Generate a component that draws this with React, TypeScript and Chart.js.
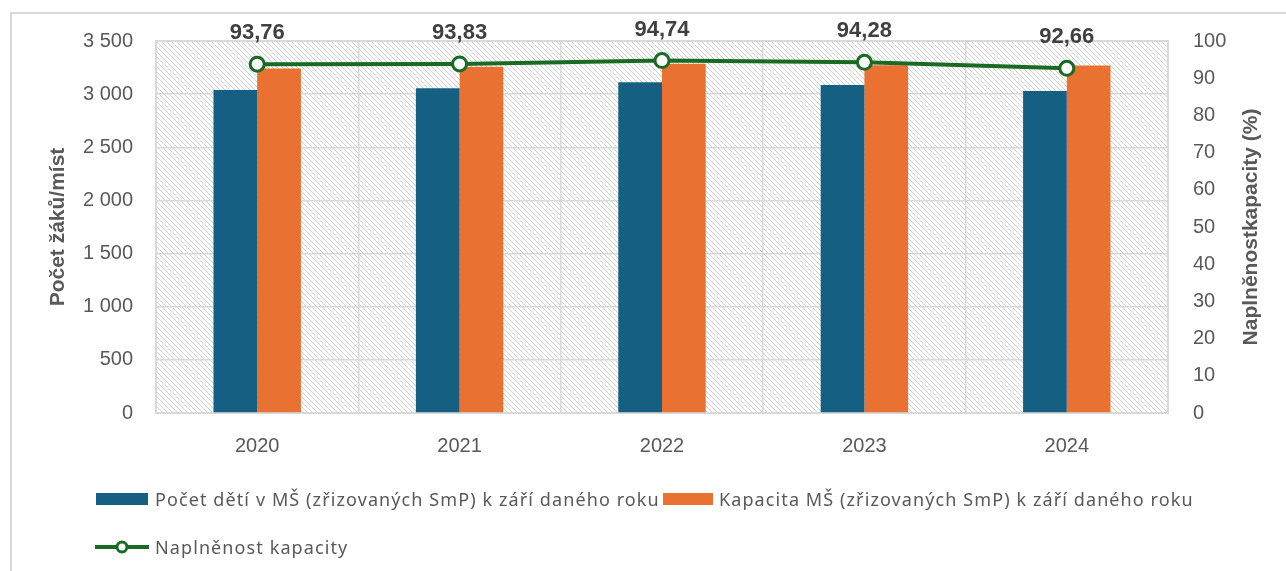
import React, { useEffect, useRef } from 'react';
import { Chart, registerables } from 'chart.js';

Chart.register(...registerables);

const years = ['2020', '2021', '2022', '2023', '2024'];
const pocetDeti = [3039, 3056, 3112, 3086, 3030];
const kapacita = [3241, 3257, 3285, 3273, 3270];
const naplnenost = [93.76, 93.83, 94.74, 94.28, 92.66];

const labelPocet = 'Počet dětí v MŠ (zřizovaných SmP) k září daného roku';
const labelKapacita = 'Kapacita MŠ (zřizovaných SmP) k září daného roku';
const labelNaplnenost = 'Naplněnost kapacity';
const leftTitle = 'Počet žáků/míst';
const rightTitle = 'Naplněnostkapacity (%)';

const BLUE = '#156082';
const ORANGE = '#E97132';
const GREEN = '#196B24';
const TEXT = '#595959';
const GRID = '#d9d9d9';
const FONT = "'Liberation Sans', Arial, sans-serif";

const fmtThousands = (v: number) =>
  v >= 1000 ? `${Math.floor(v / 1000)}\u00a0${String(v % 1000).padStart(3, '0')}` : String(v);
const fmtPct = (v: number) => v.toFixed(2).replace('.', ',');

export default function App() {
  const ref = useRef<HTMLCanvasElement>(null);

  useEffect(() => {
    const canvas = ref.current!;
    const pc = document.createElement('canvas');
    const s = 5;
    pc.width = s;
    pc.height = s;
    const pctx = pc.getContext('2d')!;
    pctx.fillStyle = '#ffffff';
    pctx.fillRect(0, 0, s, s);
    pctx.strokeStyle = '#cdcdcd';
    pctx.lineWidth = 0.9;
    for (const x0 of [-s, 0, s]) {
      pctx.beginPath();
      pctx.moveTo(x0, 0);
      pctx.lineTo(x0 + s, s);
      pctx.stroke();
    }
    const ctx0 = canvas.getContext('2d')!;
    const pattern = ctx0.createPattern(pc, 'repeat')!;

    const bgPlugin = {
      id: 'bgHatch',
      beforeDraw(chart: any) {
        const { ctx, chartArea } = chart;
        ctx.save();
        ctx.fillStyle = pattern;
        ctx.fillRect(chartArea.left, chartArea.top, chartArea.right - chartArea.left, chartArea.bottom - chartArea.top);
        ctx.restore();
      },
      beforeDatasetsDraw(chart: any) {
        const { ctx, chartArea } = chart;
        ctx.save();
        ctx.strokeStyle = GRID;
        ctx.lineWidth = 2;
        ctx.strokeRect(chartArea.left, chartArea.top, chartArea.right - chartArea.left, chartArea.bottom - chartArea.top);
        ctx.restore();
      },
    };

    const labelsPlugin = {
      id: 'pctLabels',
      afterDatasetsDraw(chart: any) {
        const { ctx } = chart;
        const meta = chart.getDatasetMeta(2);
        ctx.save();
        ctx.font = `bold 22px ${FONT}`;
        ctx.fillStyle = '#404040';
        ctx.textAlign = 'center';
        ctx.textBaseline = 'middle';
        meta.data.forEach((pt: any, i: number) => {
          ctx.fillText(fmtPct(naplnenost[i]), pt.x, pt.y - 31);
        });
        ctx.restore();
      },
      afterDraw(chart: any) {
        const { ctx, chartArea } = chart;
        const sc = chart.scales.y1;
        ctx.save();
        ctx.translate(sc.right - 11, (chartArea.top + chartArea.bottom) / 2);
        ctx.rotate(-Math.PI / 2);
        ctx.font = `bold 21px ${FONT}`;
        ctx.fillStyle = TEXT;
        ctx.textAlign = 'center';
        ctx.textBaseline = 'middle';
        ctx.fillText(rightTitle, 0, 0);
        ctx.restore();
      },
    };

    const chart = new Chart(canvas, {
      type: 'bar',
      data: {
        labels: years,
        datasets: [
          {
            label: labelPocet,
            data: pocetDeti,
            backgroundColor: BLUE,
            yAxisID: 'y',
            order: 1,
            categoryPercentage: 0.432,
            barPercentage: 1,
          } as any,
          {
            label: labelKapacita,
            data: kapacita,
            backgroundColor: ORANGE,
            yAxisID: 'y',
            order: 1,
            categoryPercentage: 0.432,
            barPercentage: 1,
          } as any,
          {
            type: 'line',
            label: labelNaplnenost,
            data: naplnenost,
            borderColor: GREEN,
            borderWidth: 4,
            pointRadius: 7,
            pointBorderWidth: 3,
            pointBackgroundColor: '#ffffff',
            pointBorderColor: GREEN,
            yAxisID: 'y1',
            order: 0,
            tension: 0,
          } as any,
        ],
      },
      options: {
        responsive: false,
        animation: false,
        devicePixelRatio: 1,
        layout: { padding: { left: 46, right: 24, top: 41, bottom: 100 } },
        plugins: {
          legend: { display: false },
          tooltip: { enabled: false },
        },
        scales: {
          x: {
            grid: { color: GRID, lineWidth: 1.5, drawTicks: false, offset: true },
            border: { display: false },
            ticks: { color: TEXT, font: { family: FONT, size: 20 }, padding: 21 },
            afterFit: (sc: any) => {
              sc.height = 58;
            },
          },
          y: {
            position: 'left',
            min: 0,
            max: 3500,
            ticks: {
              stepSize: 500,
              color: TEXT,
              font: { family: FONT, size: 20 },
              padding: 23,
              callback: (v: any) => fmtThousands(Number(v)),
            },
            grid: { color: GRID, lineWidth: 1.5, drawTicks: false },
            border: { display: false },
            title: {
              display: true,
              text: leftTitle,
              color: TEXT,
              font: { family: FONT, size: 21, weight: 'bold' },
              padding: { top: 0, bottom: 0 },
            },
            afterFit: (sc: any) => {
              sc.width = 110;
            },
          },
          y1: {
            position: 'right',
            min: 0,
            max: 100,
            ticks: {
              stepSize: 10,
              color: TEXT,
              font: { family: FONT, size: 20 },
              padding: 25,
            },
            grid: { display: false, drawTicks: false },
            border: { display: false },
            afterFit: (sc: any) => {
              sc.width = 94;
            },
          },
        },
      } as any,
      plugins: [bgPlugin, labelsPlugin],
    });
    return () => chart.destroy();
  }, []);

  const legendText: React.CSSProperties = {
    fontFamily: "'Noto Sans', sans-serif",
    fontSize: 18,
    letterSpacing: 1.1,
    color: TEXT,
    whiteSpace: 'nowrap',
  };

  return (
    <div
      style={{
        position: 'absolute',
        left: 0,
        top: 0,
        width: 1286,
        height: 571,
        background: '#ffffff',
        overflow: 'hidden',
      }}
    >
      <div
        style={{
          position: 'absolute',
          left: 10,
          top: 12,
          width: 1300,
          height: 600,
          borderLeft: `2px solid ${GRID}`,
          borderTop: `2px solid ${GRID}`,
        }}
      />
      <canvas ref={ref} width={1286} height={571} style={{ position: 'absolute', left: 0, top: 0, width: 1286, height: 571 }} />
      <div style={{ position: 'absolute', left: 96, top: 487, height: 24, display: 'flex', alignItems: 'center' }}>
        <div style={{ width: 52, height: 12, background: BLUE, marginRight: 7 }} />
        <span style={legendText}>{labelPocet}</span>
      </div>
      <div style={{ position: 'absolute', left: 663, top: 487, height: 24, display: 'flex', alignItems: 'center' }}>
        <div style={{ width: 50, height: 12, background: ORANGE, marginRight: 6 }} />
        <span style={legendText}>{labelKapacita}</span>
      </div>
      <div style={{ position: 'absolute', left: 95, top: 535, height: 24, display: 'flex', alignItems: 'center' }}>
        <svg width={54} height={16} style={{ marginRight: 6 }}>
          <line x1={0} y1={8} x2={54} y2={8} stroke={GREEN} strokeWidth={4} />
          <circle cx={27} cy={8} r={5} fill="#ffffff" stroke={GREEN} strokeWidth={3} />
        </svg>
        <span style={legendText}>{labelNaplnenost}</span>
      </div>
    </div>
  );
}
